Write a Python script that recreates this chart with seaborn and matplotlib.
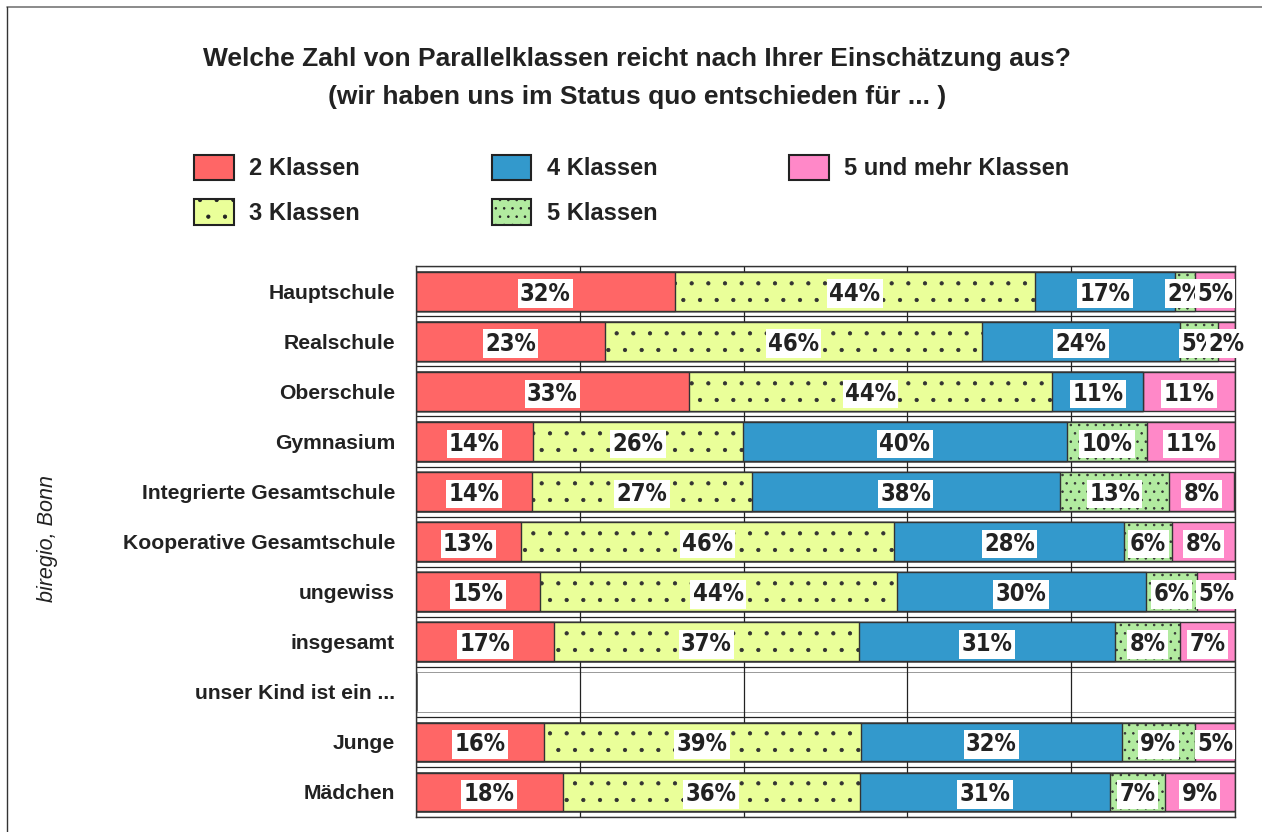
import pandas as pd
import matplotlib.pyplot as plt
import seaborn as sns
from matplotlib.patches import Patch
from matplotlib.lines import Line2D

# Data (percent of answers per group)
categories = ["Hauptschule", "Realschule", "Oberschule", "Gymnasium",
              "Integrierte Gesamtschule", "Kooperative Gesamtschule",
              "ungewiss", "insgesamt", "unser Kind ist ein ...",
              "Junge", "Mädchen"]
series_names = ["2 Klassen", "3 Klassen", "4 Klassen", "5 Klassen",
                "5 und mehr Klassen"]

klassen_2 = [31.6, 23.1, 33.3, 14.3, 14.2, 12.8, 15.1, 16.8, 0, 15.6, 17.9]
klassen_3 = [44.0, 46.0, 44.4, 25.6, 26.8, 45.6, 43.6, 37.3, 0, 38.7, 36.3]
klassen_4 = [17.1, 24.2, 11.1, 39.6, 37.6, 28.1, 30.4, 31.3, 0, 31.9, 30.6]
klassen_5 = [2.4, 4.6, 0.0, 9.8, 13.4, 5.8, 6.3, 7.9, 0, 8.9, 6.6]
klassen_5plus = [4.9, 2.1, 11.2, 10.7, 7.9, 7.7, 4.6, 6.7, 0, 4.9, 8.6]

colors = ["#FF6666", "#EAFF99", "#3399CC", "#B2EBA0", "#FF88C8"]
hatches = [None, ".", None, "..", None]


def build_frame():
    df = pd.DataFrame({
        "Gruppe": categories,
        series_names[0]: klassen_2,
        series_names[1]: klassen_3,
        series_names[2]: klassen_4,
        series_names[3]: klassen_5,
        series_names[4]: klassen_5plus,
    })
    # cumulative sums for the stacked bars
    cum = df[series_names].cumsum(axis=1)
    return df, cum


def main():
    sns.set_style("white")
    plt.rcParams["font.family"] = ["Liberation Sans", "DejaVu Sans"]
    plt.rcParams["hatch.linewidth"] = 0.6

    df, cum = build_frame()

    fig = plt.figure(figsize=(12.62, 8.32), dpi=100)
    ax = fig.add_axes([0.3296, 0.018, 0.649, 0.662])

    # draw from the right-most segment down to the first one
    for k in range(len(series_names) - 1, -1, -1):
        sns.barplot(x=cum[series_names[k]], y=df["Gruppe"], orient="h",
                    color=colors[k], saturation=1, width=0.77,
                    edgecolor="#333333", linewidth=1.0,
                    hatch=hatches[k], ax=ax, zorder=2)

    # value labels
    for k, name in enumerate(series_names):
        for i, v in enumerate(df[name]):
            if v <= 0:
                continue
            xc = cum[name].iloc[i] - v / 2
            ax.text(xc, i + 0.05, f"{round(v)}%", ha="center", va="center",
                    fontsize=17, fontweight="bold", fontstretch="condensed",
                    family="DejaVu Sans",
                    color="#222222", zorder=5,
                    bbox=dict(boxstyle="square,pad=0.1", fc="white", ec="none"))

    # row separators
    for i in range(len(categories) + 1):
        ax.axhline(i - 0.5, color="#222222", lw=0.9, zorder=0.5)
        ax.axhline(i - 0.5 - 0.1, color="#999999", lw=0.7, zorder=0.5)
        ax.axhline(i - 0.5 + 0.1, color="#999999", lw=0.7, zorder=0.5)

    ax.set_xlim(0, 100)
    ax.set_ylim(len(categories) - 0.5, -0.5)
    ax.set_xticks([0, 20, 40, 60, 80, 100])
    ax.xaxis.grid(True, color="#222222", lw=0.9)
    ax.set_axisbelow(True)
    ax.tick_params(axis="x", length=0, labelbottom=False)
    ax.tick_params(axis="y", length=0, pad=15, labelsize=15.2)
    for lab in ax.get_yticklabels():
        lab.set_fontweight("bold")
        lab.set_color("#222222")
    ax.set_xlabel("")
    ax.set_ylabel("")
    for s in ax.spines.values():
        s.set_visible(True)
        s.set_color("#333333")
        s.set_linewidth(1.0)

    # titles
    fig.text(0.505, 0.929, "Welche Zahl von Parallelklassen reicht nach Ihrer Einschätzung aus?",
             ha="center", va="center", fontsize=19, fontweight="bold", color="#222222")
    fig.text(0.505, 0.884, "(wir haben uns im Status quo entschieden für ... )",
             ha="center", va="center", fontsize=19, fontweight="bold", color="#222222")

    # side note
    fig.text(0.038, 0.353, "biregio, Bonn", rotation=90, ha="center", va="center",
             fontsize=15.5, style="italic", color="#222222")

    # legend
    handles = [Patch(facecolor=colors[k], edgecolor="#222222", linewidth=1.5,
                     hatch=hatches[k]) for k in range(len(series_names))]
    leg = fig.legend(handles, series_names, ncol=3, loc="upper left",
                     bbox_to_anchor=(194 / 1262, 1 - 155 / 832),
                     frameon=False, fontsize=17, handlelength=1.68,
                     handleheight=1.26, handletextpad=0.67,
                     columnspacing=5.56, labelspacing=0.8,
                     borderpad=0, borderaxespad=0)
    for t in leg.get_texts():
        t.set_fontweight("bold")
        t.set_color("#222222")

    # outer frame lines (top and left)
    fig.add_artist(Line2D([0.0055, 1], [0.9915, 0.9915], color="#777777", lw=1.2))
    fig.add_artist(Line2D([0.0055, 0.0055], [0, 0.9915], color="#333333", lw=1.0))

    fig.savefig("out.png", dpi=100)


if __name__ == "__main__":
    main()
